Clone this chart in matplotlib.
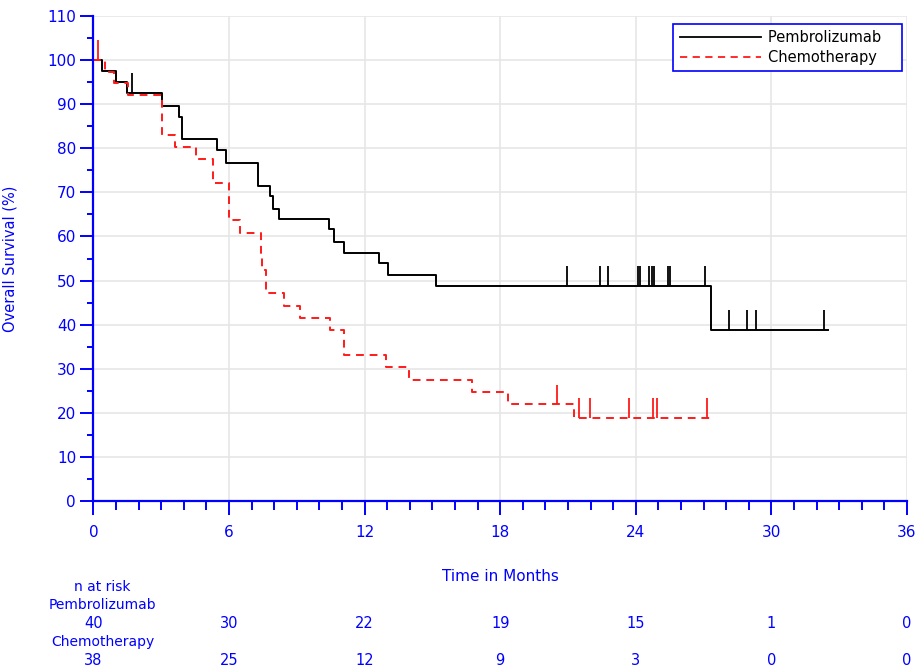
import numpy as np
import matplotlib
matplotlib.use("Agg")
import matplotlib.pyplot as plt
from matplotlib.lines import Line2D
import matplotlib.transforms as mtransforms

# Kaplan-Meier steps: event times and survival (%) after each step
pembro_t = [0, 0.37, 0.98, 1.47, 3.04, 3.80, 3.93, 5.45, 5.86, 7.29, 7.81, 7.93, 8.22,
            10.42, 10.63, 11.10, 12.65, 13.04, 15.15, 27.32, 32.51]
pembro_s = [100, 97.5, 95.0, 92.5, 89.7, 87.1, 82.0, 79.5, 76.7, 71.5, 69.1, 66.3, 63.9,
            61.6, 58.7, 56.3, 53.9, 51.2, 48.8, 38.8, 38.8]
pembro_cens = [1.69, 20.95, 22.41, 22.76, 24.09, 24.18, 24.58, 24.71, 24.80, 25.42, 25.51,
               27.05, 28.12, 28.91, 29.31, 32.32]

chemo_t = [0, 0.51, 0.92, 1.51, 3.03, 3.60, 4.54, 5.27, 6.01, 6.48, 7.40, 7.47, 7.63,
           8.44, 9.15, 10.46, 11.10, 12.94, 13.97, 16.76, 18.33, 21.27, 27.28]
chemo_s = [100, 97.4, 94.7, 92.1, 83.0, 80.3, 77.6, 72.1, 63.8, 60.7, 55.8, 52.4, 47.2,
           44.3, 41.5, 38.7, 33.2, 30.4, 27.5, 24.7, 21.9, 18.8, 18.8]
chemo_cens = [0.20, 20.52, 21.48, 21.97, 23.71, 24.77, 24.92, 27.13]

risk_times = [0, 6, 12, 18, 24, 30, 36]
pembro_risk = [40, 30, 22, 19, 15, 1, 0]
chemo_risk = [38, 25, 12, 9, 3, 0, 0]

BLUE = "#0000ff"
RED = "#ff1a1a"


def surv_at(times, surv, t):
    i = np.searchsorted(times, t, side="right") - 1
    return np.asarray(surv)[i]


fig = plt.figure(figsize=(9.2, 6.7), dpi=100, facecolor="white")
ax = fig.add_axes([0.1016, 0.2522, 0.8842, 0.7239])

ax.step(pembro_t, pembro_s, where="post", color="black", lw=1.4)
ax.step(chemo_t, chemo_s, where="post", color=RED, lw=1.4, linestyle=(0, (4, 3)))

# censoring marks: short vertical ticks above the curve
tick_h = 4.5
ps = surv_at(pembro_t, pembro_s, pembro_cens)
ax.vlines(pembro_cens, ps, ps + tick_h, color="black", lw=1.3)
cs = surv_at(chemo_t, chemo_s, chemo_cens)
ax.vlines(chemo_cens, cs, cs + tick_h, color=RED, lw=1.3)

ax.set_xlim(0, 36)
ax.set_ylim(0, 110)
ax.set_xticks(range(0, 37, 6))
ax.set_xticks(range(0, 37), minor=True)
ax.set_yticks(range(0, 111, 10))
ax.set_yticks(range(5, 110, 10), minor=True)
ax.grid(True, which="major", color="#e6e6e6", lw=1.2)
ax.set_axisbelow(True)

for side in ["top", "right"]:
    ax.spines[side].set_visible(False)
for side in ["left", "bottom"]:
    ax.spines[side].set_color(BLUE)
    ax.spines[side].set_linewidth(1.6)

ax.tick_params(axis="both", which="both", direction="out", color=BLUE, width=1.4,
               labelcolor=BLUE, labelsize=11)
ax.tick_params(axis="x", which="major", length=10, pad=7)
ax.tick_params(axis="x", which="minor", length=6.5)
ax.tick_params(axis="y", which="major", length=9.5, pad=3)
ax.tick_params(axis="y", which="minor", length=4.5)

ax.set_ylabel("Overall Survival (%)", color=BLUE, fontsize=10.5)
ax.yaxis.set_label_coords(-0.093, 0.5)
ax.set_xlabel("Time in Months", color=BLUE, fontsize=11)
ax.xaxis.set_label_coords(0.5, -0.14)

handles = [Line2D([], [], color="black", lw=1.3),
           Line2D([], [], color=RED, lw=1.3, linestyle=(0, (4, 3)))]
leg = ax.legend(handles, ["Pembrolizumab   ", "Chemotherapy   "], loc="upper right",
                bbox_to_anchor=(0.994, 0.984), fontsize=10.5, handlelength=5.6,
                fancybox=False, framealpha=1, borderpad=0.45, labelspacing=0.3,
                handletextpad=0.5, borderaxespad=0)
leg.get_frame().set_edgecolor(BLUE)
leg.get_frame().set_linewidth(1.2)

# number-at-risk table under the axis
trans = mtransforms.blended_transform_factory(ax.transData, ax.transAxes)
rows = [(-0.178, "n at risk"), (-0.214, "Pembrolizumab"), (-0.29, "Chemotherapy")]
for y, txt in rows:
    ax.text(0.4, y, txt, transform=trans, ha="center", va="center",
            color=BLUE, fontsize=10, clip_on=False)
for x, a, b in zip(risk_times, pembro_risk, chemo_risk):
    ax.text(x, -0.252, str(a), transform=trans, ha="center", va="center",
            color=BLUE, fontsize=10.5, clip_on=False)
    ax.text(x, -0.328, str(b), transform=trans, ha="center", va="center",
            color=BLUE, fontsize=10.5, clip_on=False)

fig.savefig("out.png", dpi=100, facecolor="white")
